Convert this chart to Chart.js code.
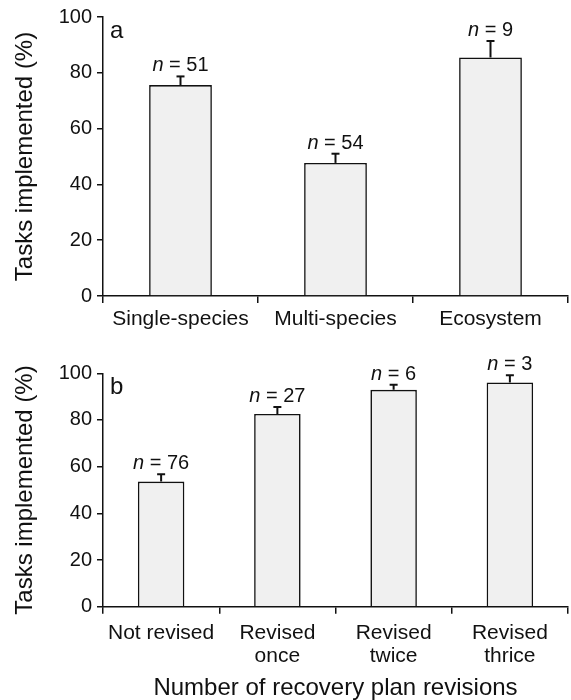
<!DOCTYPE html>
<html>
<head>
<meta charset="utf-8">
<script src="https://cdn.jsdelivr.net/npm/chart.js@4.4.0/dist/chart.umd.min.js"></script>
<style>
  html, body { margin: 0; padding: 0; background: #fff; overflow: hidden; }
  .panel { position: absolute; left: 0; width: 571px; overflow: hidden; }
  #wrapA { top: 0; height: 340px; }
  #wrapB { top: 340px; height: 360px; }
</style>
</head>
<body>
<div class="panel" id="wrapA"><canvas id="chartA" width="574" height="340"></canvas></div>
<div class="panel" id="wrapB"><canvas id="chartB" width="574" height="360"></canvas></div>
<script>
// panel a: tipo de plan
const planTypes = ["Single-species", "Multi-species", "Ecosystem"];
const planTypeMeans = [75.6, 47.7, 85.5];
const planTypeUpper = [78.7, 51.0, 91.4];
const planTypeN = [51, 54, 9];

// panel b: revisiones
const revisions = [["Not revised"], ["Revised", "once"], ["Revised", "twice"], ["Revised", "thrice"]];
const revisionMeans = [53.6, 82.6, 92.9, 96.1];
const revisionUpper = [56.7, 85.6, 95.1, 99.2];
const revisionN = [76, 27, 6, 3];

const yTicks = [0, 20, 40, 60, 80, 100];

const FONT = "'Liberation Sans', Arial, Helvetica, sans-serif";
const INK = "#111";
Chart.defaults.font.family = FONT;
Chart.defaults.color = INK;

// etiquetas n = .. y letra del panel
const annotate = {
  id: "annotate",
  afterDatasetsDraw(chart, args, opts) {
    const { ctx, scales: { x, y }, chartArea } = chart;
    ctx.save();
    ctx.fillStyle = INK;
    ctx.textBaseline = "alphabetic";
    ctx.textAlign = "left";
    opts.n.forEach((n, i) => {
      const px = x.getPixelForValue(i);
      const py = y.getPixelForValue(opts.upper[i]) - 5;
      ctx.font = "italic 20px " + FONT;
      const w1 = ctx.measureText("n").width;
      ctx.font = "20px " + FONT;
      const rest = " = " + n;
      const w2 = ctx.measureText(rest).width;
      const left = px - (w1 + w2) / 2;
      ctx.font = "italic 20px " + FONT;
      ctx.fillText("n", left, py);
      ctx.font = "20px " + FONT;
      ctx.fillText(rest, left + w1, py);
    });
    ctx.font = "24px " + FONT;
    ctx.fillText(opts.letter, chartArea.left + 7, chartArea.top + 21);
    ctx.restore();
  }
};

function makeChart(id, labels, means, upper, nVals, letter, cfg) {
  const ctx = document.getElementById(id).getContext("2d");
  return new Chart(ctx, {
    type: "bar",
    data: {
      labels: labels,
      datasets: [
        {
          // barras principales
          data: means,
          backgroundColor: "#f0f0f0",
          borderColor: INK,
          borderWidth: 1.6,
          barPercentage: cfg.barPct,
          categoryPercentage: 1,
          order: 3,
        },
        {
          // barra de error (solo hacia arriba)
          data: means.map((m, i) => [m, upper[i]]),
          backgroundColor: INK,
          borderWidth: 0,
          grouped: false,
          maxBarThickness: 2,
          order: 2,
        },
        {
          // tapa de la barra de error
          type: "line",
          data: upper,
          showLine: false,
          pointStyle: "line",
          pointRadius: 4,
          pointBorderWidth: 2,
          pointBorderColor: INK,
          borderColor: INK,
          order: 1,
        },
      ],
    },
    options: {
      responsive: false,
      animation: false,
      layout: { padding: { top: cfg.top, right: 0, bottom: 0, left: 0 } },
      plugins: {
        legend: { display: false },
        tooltip: { enabled: false },
        annotate: { n: nVals, upper: upper, letter: letter },
      },
      scales: {
        x: {
          type: "category",
          offset: true,
          grid: { drawOnChartArea: false, drawTicks: true, tickLength: 7, color: INK, lineWidth: 1.5, offset: true },
          border: { display: true, color: INK, width: 1.5 },
          ticks: { color: INK, font: { size: 21, lineHeight: 1.1 }, padding: cfg.tickPad, maxRotation: 0, autoSkip: false },
          title: cfg.xTitle
            ? { display: true, text: cfg.xTitle, color: INK, font: { size: 24, lineHeight: 1 }, padding: { top: 0, bottom: 0 } }
            : { display: false },
          afterFit: (s) => { s.height = cfg.xHeight; },
        },
        y: {
          min: 0,
          max: 100,
          afterBuildTicks: (s) => { s.ticks = yTicks.map((v) => ({ value: v })); },
          grid: { drawOnChartArea: false, drawTicks: true, tickLength: 6, color: INK, lineWidth: 1.5 },
          border: { display: true, color: INK, width: 1.5 },
          ticks: { color: INK, font: { size: 20 }, padding: 5 },
          title: { display: true, text: "Tasks implemented (%)", color: INK, font: { size: 24 }, padding: { top: 11, bottom: 0 } },
          afterFit: (s) => { s.width = 103; },
        },
      },
    },
    plugins: [annotate],
  });
}

makeChart("chartA", planTypes, planTypeMeans, planTypeUpper, planTypeN, "a",
  { top: 16, xHeight: 44, barPct: 0.405, tickPad: 5 });
makeChart("chartB", revisions, revisionMeans, revisionUpper, revisionN, "b",
  { top: 33.3, xHeight: 93.3, barPct: 0.40, tickPad: 8, xTitle: "Number of recovery plan revisions" });
</script>
</body>
</html>
